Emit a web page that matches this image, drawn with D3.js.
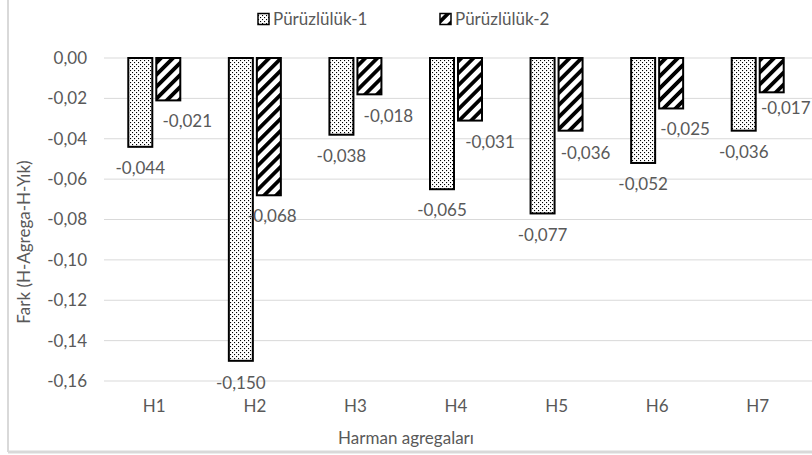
<!DOCTYPE html>
<html>
<head>
<meta charset="utf-8">
<script src="https://cdn.jsdelivr.net/npm/d3@7"></script>
<style>
  html, body { margin: 0; padding: 0; background: #fff; }
  svg { display: block; font-family: Lato, "Open Sans", sans-serif; }
</style>
</head>
<body>
<svg id="chart" width="812" height="455"></svg>
<script>
// Harman agregaları: fark değerleri (H-Agrega - H-Yık)
const categories = ["H1", "H2", "H3", "H4", "H5", "H6", "H7"];
const seriesNames = ["Pürüzlülük-1", "Pürüzlülük-2"];
const roughness1 = [-0.044, -0.150, -0.038, -0.065, -0.077, -0.052, -0.036];
const roughness2 = [-0.021, -0.068, -0.018, -0.031, -0.036, -0.025, -0.017];
const yTicks = [0, -0.02, -0.04, -0.06, -0.08, -0.10, -0.12, -0.14, -0.16];
const yTitle = "Fark (H-Agrega-H-Yık)";
const xTitle = "Harman agregaları";

const series = [roughness1, roughness2];
const textColor = "#595959";
const fmt = v => d3.format(".3f")(v).replace("−", "-").replace(".", ",");
const fmtTick = v => (v === 0 ? "0,00" : d3.format(".2f")(v).replace("−", "-").replace(".", ","));

const svg = d3.select("#chart");
const defs = svg.append("defs");

// Sparse dotted fill for the first series
const dots = defs.append("pattern")
  .attr("id", "dots").attr("patternUnits", "userSpaceOnUse")
  .attr("width", 4).attr("height", 4);
dots.append("rect").attr("width", 4).attr("height", 4).attr("fill", "#fff");
dots.append("rect").attr("x", 0).attr("y", 0).attr("width", 1.1).attr("height", 1.1).attr("fill", "#000");
dots.append("rect").attr("x", 2).attr("y", 2).attr("width", 1.1).attr("height", 1.1).attr("fill", "#000");

// Wide upward diagonal fill for the second series
const hatch = defs.append("pattern")
  .attr("id", "hatch").attr("patternUnits", "userSpaceOnUse")
  .attr("width", 8.5).attr("height", 8.5)
  .attr("patternTransform", "rotate(45)");
hatch.append("rect").attr("width", 8.5).attr("height", 8.5).attr("fill", "#fff");
hatch.append("rect").attr("x", 0).attr("y", 0).attr("width", 3.8).attr("height", 8.5).attr("fill", "#000");

const fills = ["url(#dots)", "url(#hatch)"];

// Chart frame (left and bottom edges)
svg.append("line").attr("x1", 8).attr("x2", 8).attr("y1", 0).attr("y2", 452)
  .attr("stroke", "#d9d9d9").attr("stroke-width", 2);
svg.append("line").attr("x1", 8).attr("x2", 812).attr("y1", 452).attr("y2", 452)
  .attr("stroke", "#d9d9d9").attr("stroke-width", 3);

const plot = { left: 104, right: 808, top: 58, bottom: 381 };

const x = d3.scaleBand().domain(categories).range([plot.left, plot.right]);
const y = d3.scaleLinear().domain([-0.16, 0]).range([plot.bottom, plot.top]);

// Gridlines
svg.append("g").selectAll("line").data(yTicks).join("line")
  .attr("x1", plot.left).attr("x2", 812)
  .attr("y1", d => y(d)).attr("y2", d => y(d))
  .attr("stroke", "#d9d9d9").attr("stroke-width", 1);

// Y axis labels
const yAxis = d3.axisLeft(y).tickValues(yTicks).tickFormat(fmtTick).tickSize(0).tickPadding(0);
const gy = svg.append("g").attr("transform", `translate(${plot.left - 17},0)`).call(yAxis);
gy.select(".domain").remove();
gy.selectAll("text").attr("fill", textColor).style("font-size", "17px").style("font-family", "Lato, sans-serif");

// X axis labels
const xAxis = d3.axisBottom(x).tickSize(0).tickPadding(0);
const gx = svg.append("g").attr("transform", `translate(0,${plot.bottom + 19})`).call(xAxis);
gx.select(".domain").remove();
gx.selectAll("text").attr("fill", textColor).style("font-size", "17px").style("font-family", "Lato, sans-serif");

// Bars
const barW = 24, barGap = 4;
const offsets = [-(barW + barGap) / 2, (barW + barGap) / 2];
const cx = (cat, s) => x(cat) + x.bandwidth() / 2 + offsets[s];

series.forEach((vals, s) => {
  svg.append("g").selectAll("rect").data(vals).join("rect")
    .attr("x", (d, i) => cx(categories[i], s) - barW / 2)
    .attr("y", y(0))
    .attr("width", barW)
    .attr("height", d => y(d) - y(0))
    .attr("fill", fills[s])
    .attr("stroke", "#000")
    .attr("stroke-width", 2);
});

// Value labels below each bar end; second-series labels sit a little to the right
const labelShift = [[0, 0, 0, 0, 0, 0, 0], [19, 3, 19, 20, 15, 14, 14]];
const labelDrop = [[21, 22, 21, 21, 22, 21, 21], [21, 21, 22, 21, 22, 21, 16]];
series.forEach((vals, s) => {
  svg.append("g").selectAll("text").data(vals).join("text")
    .attr("x", (d, i) => cx(categories[i], s) + labelShift[s][i])
    .attr("y", (d, i) => y(d) + labelDrop[s][i])
    .attr("dy", "0.35em")
    .attr("text-anchor", "middle")
    .attr("fill", textColor)
    .style("font-size", "17px")
    .text(d => fmt(d));
});

// Axis titles
svg.append("text")
  .attr("transform", `translate(24,242) rotate(-90)`)
  .attr("text-anchor", "middle").attr("dy", "0.35em")
  .attr("fill", textColor).style("font-size", "17px")
  .text(yTitle);
svg.append("text")
  .attr("x", 406).attr("y", 438).attr("dy", "0.35em")
  .attr("text-anchor", "middle")
  .attr("fill", textColor).style("font-size", "17px")
  .text(xTitle);

// Legend
const legendX = [258, 440];
const legend = svg.append("g").selectAll("g").data(seriesNames).join("g")
  .attr("transform", (d, i) => `translate(${legendX[i]},19)`);
legend.append("rect")
  .attr("x", 0).attr("y", -5.5).attr("width", 11).attr("height", 11)
  .attr("fill", (d, i) => fills[i]).attr("stroke", "#000").attr("stroke-width", 1.5);
legend.append("text")
  .attr("x", 15).attr("dy", "0.35em")
  .attr("fill", textColor).style("font-size", "17px")
  .text(d => d);
</script>
</body>
</html>
